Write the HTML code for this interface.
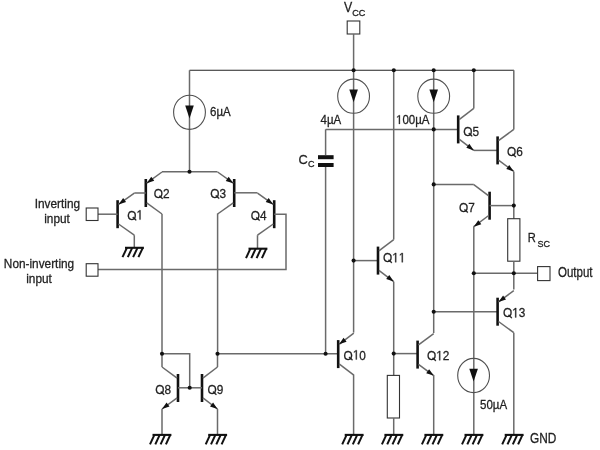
<!DOCTYPE html>
<html><head><meta charset="utf-8"><style>
html,body{margin:0;padding:0;background:#fff;width:600px;height:450px;overflow:hidden}
svg{display:block;filter:blur(0.45px)}
text{font-family:"Liberation Sans",sans-serif;fill:#222;stroke:#222;stroke-width:0.28px}
.g1{fill:#222;stroke:#222;stroke-width:0.28px;vector-effect:non-scaling-stroke}
</style></head><body>
<svg width="600" height="450" viewBox="0 0 600 450">
<rect width="600" height="450" fill="#fff"/>
<path d="M189.50 70.30 L514.00 70.30" fill="none" stroke="#222" stroke-width="1.1" stroke-linejoin="miter"/>
<rect x="347.20" y="21.00" width="12.60" height="13.00" fill="none" stroke="#333" stroke-width="1.1"/>
<path d="M353.60 34.00 L353.60 70.30" fill="none" stroke="#6a6a6a" stroke-width="1.5" stroke-linejoin="miter"/>
<text transform="translate(344.00 12.00) scale(0.85 1)" font-size="14.5" text-anchor="start">V</text>
<text transform="translate(352.20 16.20) scale(0.95 1)" font-size="9.6" text-anchor="start">CC</text>
<path d="M189.50 70.30 L189.50 171.70" fill="none" stroke="#6a6a6a" stroke-width="1.5" stroke-linejoin="miter"/>
<ellipse cx="189.50" cy="112.30" rx="15.9" ry="17.1" fill="none" stroke="#505050" stroke-width="1.1"/>
<path d="M185.20 105.60 L193.80 105.60 L189.50 118.40Z" fill="#111"/>
<text transform="translate(210.00 116.00) scale(0.9 1)" font-size="12.8" text-anchor="start">6µA</text>
<path d="M162.00 171.70 L217.50 171.70" fill="none" stroke="#6a6a6a" stroke-width="1.5" stroke-linejoin="miter"/>
<line x1="145.80" y1="179.00" x2="145.80" y2="207.00" stroke="#111" stroke-width="2.6"/>
<path d="M146.70 183.20 L162.00 172.00" fill="none" stroke="#6a6a6a" stroke-width="1.5" stroke-linejoin="miter"/>
<path d="M146.70 202.80 L162.00 214.00" fill="none" stroke="#6a6a6a" stroke-width="1.5" stroke-linejoin="miter"/>
<path d="M146.70 183.20 L151.28 176.75 L154.23 180.79Z" fill="#111"/>
<path d="M162.00 214.00 L162.00 353.70" fill="none" stroke="#6a6a6a" stroke-width="1.5" stroke-linejoin="miter"/>
<path d="M134.30 193.00 L145.80 193.00" fill="none" stroke="#6a6a6a" stroke-width="1.5" stroke-linejoin="miter"/>
<g transform="translate(153.80 198.20) scale(0.87 1)"><text font-size="13.6">O2</text><path class="g1" transform="translate(0.000 0) scale(0.00664 -0.00664)" d="M1010 420 L1175 300 L1540 30 L1540 -120 L1440 -120 L1075 150 L905 275 Z"/></g>
<line x1="117.60" y1="200.20" x2="117.60" y2="228.20" stroke="#111" stroke-width="2.6"/>
<path d="M118.50 204.40 L134.30 193.20" fill="none" stroke="#6a6a6a" stroke-width="1.5" stroke-linejoin="miter"/>
<path d="M118.50 224.00 L134.30 235.20" fill="none" stroke="#6a6a6a" stroke-width="1.5" stroke-linejoin="miter"/>
<path d="M118.50 204.40 L123.17 198.02 L126.06 202.10Z" fill="#111"/>
<path d="M98.00 214.20 L117.60 214.20" fill="none" stroke="#6a6a6a" stroke-width="1.5" stroke-linejoin="miter"/>
<path d="M134.30 193.20 L134.30 193.00" fill="none" stroke="#6a6a6a" stroke-width="1.5" stroke-linejoin="miter"/>
<path d="M134.30 235.20 L134.30 247.80" fill="none" stroke="#6a6a6a" stroke-width="1.5" stroke-linejoin="miter"/>
<path d="M125.00 247.80 L143.90 247.80" stroke="#111" stroke-width="2.1" fill="none"/>
<path d="M126.90 247.80 L122.50 257.20" stroke="#111" stroke-width="2.0" fill="none"/>
<path d="M132.20 247.80 L127.80 257.20" stroke="#111" stroke-width="2.0" fill="none"/>
<path d="M137.50 247.80 L133.10 257.20" stroke="#111" stroke-width="2.0" fill="none"/>
<path d="M142.80 247.80 L138.40 257.20" stroke="#111" stroke-width="2.0" fill="none"/>
<g transform="translate(127.30 219.60) scale(0.87 1)"><text font-size="13.6">O </text><path class="g1" transform="translate(0.000 0) scale(0.00664 -0.00664)" d="M1010 420 L1175 300 L1540 30 L1540 -120 L1440 -120 L1075 150 L905 275 Z"/><path class="g1" transform="translate(10.579 0) scale(0.00664 -0.00664)" d="M515 0 L515 1237 L197 1010 L197 1180 L530 1409 L696 1409 L696 0 Z"/></g>
<rect x="86.20" y="208.00" width="11.80" height="12.50" fill="none" stroke="#333" stroke-width="1.1"/>
<text transform="translate(57.40 207.90) scale(0.925 1)" font-size="12.8" text-anchor="middle">Inverting</text>
<text transform="translate(57.00 222.70) scale(0.925 1)" font-size="12.8" text-anchor="middle">input</text>
<line x1="234.20" y1="179.00" x2="234.20" y2="207.00" stroke="#111" stroke-width="2.6"/>
<path d="M233.30 183.20 L217.60 172.00" fill="none" stroke="#6a6a6a" stroke-width="1.5" stroke-linejoin="miter"/>
<path d="M233.30 202.80 L217.60 214.00" fill="none" stroke="#6a6a6a" stroke-width="1.5" stroke-linejoin="miter"/>
<path d="M233.30 183.20 L225.74 180.88 L228.65 176.81Z" fill="#111"/>
<path d="M217.60 213.50 L217.60 353.70" fill="none" stroke="#6a6a6a" stroke-width="1.5" stroke-linejoin="miter"/>
<path d="M234.20 192.80 L257.50 192.80" fill="none" stroke="#6a6a6a" stroke-width="1.5" stroke-linejoin="miter"/>
<g transform="translate(210.30 197.90) scale(0.87 1)"><text font-size="13.6">O3</text><path class="g1" transform="translate(0.000 0) scale(0.00664 -0.00664)" d="M1010 420 L1175 300 L1540 30 L1540 -120 L1440 -120 L1075 150 L905 275 Z"/></g>
<line x1="274.20" y1="200.20" x2="274.20" y2="228.20" stroke="#111" stroke-width="2.6"/>
<path d="M273.30 204.40 L257.50 193.20" fill="none" stroke="#6a6a6a" stroke-width="1.5" stroke-linejoin="miter"/>
<path d="M273.30 224.00 L257.50 235.20" fill="none" stroke="#6a6a6a" stroke-width="1.5" stroke-linejoin="miter"/>
<path d="M273.30 204.40 L265.74 202.10 L268.63 198.02Z" fill="#111"/>
<path d="M274.20 214.20 L286.00 214.20 L286.00 269.40 L98.00 269.40" fill="none" stroke="#6a6a6a" stroke-width="1.5" stroke-linejoin="miter"/>
<path d="M257.50 235.20 L257.50 248.70" fill="none" stroke="#6a6a6a" stroke-width="1.5" stroke-linejoin="miter"/>
<path d="M248.50 248.70 L267.40 248.70" stroke="#111" stroke-width="2.1" fill="none"/>
<path d="M250.40 248.70 L246.00 258.10" stroke="#111" stroke-width="2.0" fill="none"/>
<path d="M255.70 248.70 L251.30 258.10" stroke="#111" stroke-width="2.0" fill="none"/>
<path d="M261.00 248.70 L256.60 258.10" stroke="#111" stroke-width="2.0" fill="none"/>
<path d="M266.30 248.70 L261.90 258.10" stroke="#111" stroke-width="2.0" fill="none"/>
<g transform="translate(250.80 219.90) scale(0.87 1)"><text font-size="13.6">O4</text><path class="g1" transform="translate(0.000 0) scale(0.00664 -0.00664)" d="M1010 420 L1175 300 L1540 30 L1540 -120 L1440 -120 L1075 150 L905 275 Z"/></g>
<rect x="86.20" y="263.70" width="11.80" height="12.50" fill="none" stroke="#333" stroke-width="1.1"/>
<text transform="translate(39.00 268.30) scale(0.925 1)" font-size="12.8" text-anchor="middle">Non-inverting</text>
<text transform="translate(39.00 283.10) scale(0.925 1)" font-size="12.8" text-anchor="middle">input</text>
<path d="M162.00 353.70 L189.70 353.70 L189.70 387.80" fill="none" stroke="#6a6a6a" stroke-width="1.5" stroke-linejoin="miter"/>
<line x1="178.00" y1="374.00" x2="178.00" y2="402.00" stroke="#111" stroke-width="2.6"/>
<path d="M177.10 378.20 L162.00 367.00" fill="none" stroke="#6a6a6a" stroke-width="1.5" stroke-linejoin="miter"/>
<path d="M177.10 397.80 L162.00 409.00" fill="none" stroke="#6a6a6a" stroke-width="1.5" stroke-linejoin="miter"/>
<path d="M162.00 409.00 L166.53 402.52 L169.51 406.54Z" fill="#111"/>
<line x1="202.00" y1="374.00" x2="202.00" y2="402.00" stroke="#111" stroke-width="2.6"/>
<path d="M202.90 378.20 L217.50 367.00" fill="none" stroke="#6a6a6a" stroke-width="1.5" stroke-linejoin="miter"/>
<path d="M202.90 397.80 L217.50 409.00" fill="none" stroke="#6a6a6a" stroke-width="1.5" stroke-linejoin="miter"/>
<path d="M217.50 409.00 L210.03 406.42 L213.07 402.45Z" fill="#111"/>
<path d="M178.00 387.80 L202.00 387.80" fill="none" stroke="#6a6a6a" stroke-width="1.5" stroke-linejoin="miter"/>
<path d="M162.00 367.00 L162.00 353.70" fill="none" stroke="#6a6a6a" stroke-width="1.5" stroke-linejoin="miter"/>
<path d="M162.00 409.00 L162.00 434.90" fill="none" stroke="#6a6a6a" stroke-width="1.5" stroke-linejoin="miter"/>
<path d="M152.50 434.90 L171.40 434.90" stroke="#111" stroke-width="2.1" fill="none"/>
<path d="M154.40 434.90 L150.00 444.30" stroke="#111" stroke-width="2.0" fill="none"/>
<path d="M159.70 434.90 L155.30 444.30" stroke="#111" stroke-width="2.0" fill="none"/>
<path d="M165.00 434.90 L160.60 444.30" stroke="#111" stroke-width="2.0" fill="none"/>
<path d="M170.30 434.90 L165.90 444.30" stroke="#111" stroke-width="2.0" fill="none"/>
<path d="M217.50 367.00 L217.50 353.70" fill="none" stroke="#6a6a6a" stroke-width="1.5" stroke-linejoin="miter"/>
<path d="M217.50 409.00 L217.50 434.90" fill="none" stroke="#6a6a6a" stroke-width="1.5" stroke-linejoin="miter"/>
<path d="M208.20 434.90 L227.10 434.90" stroke="#111" stroke-width="2.1" fill="none"/>
<path d="M210.10 434.90 L205.70 444.30" stroke="#111" stroke-width="2.0" fill="none"/>
<path d="M215.40 434.90 L211.00 444.30" stroke="#111" stroke-width="2.0" fill="none"/>
<path d="M220.70 434.90 L216.30 444.30" stroke="#111" stroke-width="2.0" fill="none"/>
<path d="M226.00 434.90 L221.60 444.30" stroke="#111" stroke-width="2.0" fill="none"/>
<path d="M217.50 353.70 L338.00 353.70" fill="none" stroke="#6a6a6a" stroke-width="1.5" stroke-linejoin="miter"/>
<g transform="translate(155.30 394.10) scale(0.87 1)"><text font-size="13.6">O8</text><path class="g1" transform="translate(0.000 0) scale(0.00664 -0.00664)" d="M1010 420 L1175 300 L1540 30 L1540 -120 L1440 -120 L1075 150 L905 275 Z"/></g>
<g transform="translate(207.50 394.10) scale(0.87 1)"><text font-size="13.6">O9</text><path class="g1" transform="translate(0.000 0) scale(0.00664 -0.00664)" d="M1010 420 L1175 300 L1540 30 L1540 -120 L1440 -120 L1075 150 L905 275 Z"/></g>
<path d="M325.60 129.40 L457.70 129.40" fill="none" stroke="#6a6a6a" stroke-width="1.5" stroke-linejoin="miter"/>
<path d="M325.60 129.40 L325.60 155.00" fill="none" stroke="#6a6a6a" stroke-width="1.5" stroke-linejoin="miter"/>
<rect x="318" y="155.2" width="15.6" height="4" fill="#111"/>
<rect x="318" y="163.0" width="15.6" height="4" fill="#111"/>
<path d="M325.60 167.00 L325.60 353.70" fill="none" stroke="#6a6a6a" stroke-width="1.5" stroke-linejoin="miter"/>
<text transform="translate(298.40 164.40) scale(0.95 1)" font-size="13.5" text-anchor="start">C</text>
<text transform="translate(308.00 167.20) scale(0.95 1)" font-size="9.5" text-anchor="start">C</text>
<path d="M353.60 70.30 L353.60 260.60" fill="none" stroke="#6a6a6a" stroke-width="1.5" stroke-linejoin="miter"/>
<ellipse cx="353.60" cy="96.20" rx="15.9" ry="17.1" fill="none" stroke="#505050" stroke-width="1.1"/>
<path d="M349.30 89.50 L357.90 89.50 L353.60 102.30Z" fill="#111"/>
<text transform="translate(320.50 124.00) scale(0.9 1)" font-size="12.8" text-anchor="start">4µA</text>
<path d="M353.60 260.60 L378.00 260.60" fill="none" stroke="#6a6a6a" stroke-width="1.5" stroke-linejoin="miter"/>
<path d="M353.60 260.60 L353.60 332.60" fill="none" stroke="#6a6a6a" stroke-width="1.5" stroke-linejoin="miter"/>
<line x1="338.20" y1="340.10" x2="338.20" y2="368.10" stroke="#111" stroke-width="2.6"/>
<path d="M339.10 344.30 L353.80 333.10" fill="none" stroke="#6a6a6a" stroke-width="1.5" stroke-linejoin="miter"/>
<path d="M339.10 363.90 L353.80 375.10" fill="none" stroke="#6a6a6a" stroke-width="1.5" stroke-linejoin="miter"/>
<path d="M339.10 344.30 L343.55 337.77 L346.58 341.74Z" fill="#111"/>
<path d="M353.60 374.60 L353.60 434.90" fill="none" stroke="#6a6a6a" stroke-width="1.5" stroke-linejoin="miter"/>
<path d="M344.70 434.90 L363.60 434.90" stroke="#111" stroke-width="2.1" fill="none"/>
<path d="M346.60 434.90 L342.20 444.30" stroke="#111" stroke-width="2.0" fill="none"/>
<path d="M351.90 434.90 L347.50 444.30" stroke="#111" stroke-width="2.0" fill="none"/>
<path d="M357.20 434.90 L352.80 444.30" stroke="#111" stroke-width="2.0" fill="none"/>
<path d="M362.50 434.90 L358.10 444.30" stroke="#111" stroke-width="2.0" fill="none"/>
<g transform="translate(343.60 359.50) scale(0.87 1)"><text font-size="13.6">O 0</text><path class="g1" transform="translate(0.000 0) scale(0.00664 -0.00664)" d="M1010 420 L1175 300 L1540 30 L1540 -120 L1440 -120 L1075 150 L905 275 Z"/><path class="g1" transform="translate(10.579 0) scale(0.00664 -0.00664)" d="M515 0 L515 1237 L197 1010 L197 1180 L530 1409 L696 1409 L696 0 Z"/></g>
<path d="M393.70 70.30 L393.70 239.60" fill="none" stroke="#6a6a6a" stroke-width="1.5" stroke-linejoin="miter"/>
<line x1="378.00" y1="246.60" x2="378.00" y2="274.60" stroke="#111" stroke-width="2.6"/>
<path d="M378.90 250.80 L393.70 239.60" fill="none" stroke="#6a6a6a" stroke-width="1.5" stroke-linejoin="miter"/>
<path d="M378.90 270.40 L393.70 281.60" fill="none" stroke="#6a6a6a" stroke-width="1.5" stroke-linejoin="miter"/>
<path d="M393.70 281.60 L386.21 279.07 L389.23 275.08Z" fill="#111"/>
<path d="M393.70 281.60 L393.70 375.40" fill="none" stroke="#6a6a6a" stroke-width="1.5" stroke-linejoin="miter"/>
<path d="M393.70 353.60 L417.60 353.60" fill="none" stroke="#6a6a6a" stroke-width="1.5" stroke-linejoin="miter"/>
<rect x="387.30" y="375.40" width="12.20" height="42.60" fill="none" stroke="#333" stroke-width="1.1"/>
<path d="M393.70 418.00 L393.70 434.90" fill="none" stroke="#6a6a6a" stroke-width="1.5" stroke-linejoin="miter"/>
<path d="M384.40 434.90 L403.30 434.90" stroke="#111" stroke-width="2.1" fill="none"/>
<path d="M386.30 434.90 L381.90 444.30" stroke="#111" stroke-width="2.0" fill="none"/>
<path d="M391.60 434.90 L387.20 444.30" stroke="#111" stroke-width="2.0" fill="none"/>
<path d="M396.90 434.90 L392.50 444.30" stroke="#111" stroke-width="2.0" fill="none"/>
<path d="M402.20 434.90 L397.80 444.30" stroke="#111" stroke-width="2.0" fill="none"/>
<g transform="translate(383.00 262.30) scale(0.87 1)"><text font-size="13.6">O  </text><path class="g1" transform="translate(0.000 0) scale(0.00664 -0.00664)" d="M1010 420 L1175 300 L1540 30 L1540 -120 L1440 -120 L1075 150 L905 275 Z"/><path class="g1" transform="translate(10.579 0) scale(0.00664 -0.00664)" d="M515 0 L515 1237 L197 1010 L197 1180 L530 1409 L696 1409 L696 0 Z"/><path class="g1" transform="translate(18.142 0) scale(0.00664 -0.00664)" d="M515 0 L515 1237 L197 1010 L197 1180 L530 1409 L696 1409 L696 0 Z"/></g>
<path d="M433.70 70.30 L433.70 333.00" fill="none" stroke="#6a6a6a" stroke-width="1.5" stroke-linejoin="miter"/>
<ellipse cx="433.70" cy="96.20" rx="15.9" ry="17.1" fill="none" stroke="#505050" stroke-width="1.1"/>
<path d="M429.40 89.50 L438.00 89.50 L433.70 102.30Z" fill="#111"/>
<g transform="translate(396.00 124.00) scale(0.9 1)"><text font-size="12.8"> 00µA</text><path class="g1" transform="translate(0.000 0) scale(0.00625 -0.00625)" d="M515 0 L515 1237 L197 1010 L197 1180 L530 1409 L696 1409 L696 0 Z"/></g>
<line x1="417.60" y1="340.60" x2="417.60" y2="368.60" stroke="#111" stroke-width="2.6"/>
<path d="M418.50 344.80 L433.70 333.60" fill="none" stroke="#6a6a6a" stroke-width="1.5" stroke-linejoin="miter"/>
<path d="M418.50 364.40 L433.70 375.60" fill="none" stroke="#6a6a6a" stroke-width="1.5" stroke-linejoin="miter"/>
<path d="M433.70 375.60 L426.18 373.16 L429.15 369.14Z" fill="#111"/>
<path d="M433.70 375.00 L433.70 434.90" fill="none" stroke="#6a6a6a" stroke-width="1.5" stroke-linejoin="miter"/>
<path d="M424.40 434.90 L443.30 434.90" stroke="#111" stroke-width="2.1" fill="none"/>
<path d="M426.30 434.90 L421.90 444.30" stroke="#111" stroke-width="2.0" fill="none"/>
<path d="M431.60 434.90 L427.20 444.30" stroke="#111" stroke-width="2.0" fill="none"/>
<path d="M436.90 434.90 L432.50 444.30" stroke="#111" stroke-width="2.0" fill="none"/>
<path d="M442.20 434.90 L437.80 444.30" stroke="#111" stroke-width="2.0" fill="none"/>
<g transform="translate(427.00 360.30) scale(0.87 1)"><text font-size="13.6">O 2</text><path class="g1" transform="translate(0.000 0) scale(0.00664 -0.00664)" d="M1010 420 L1175 300 L1540 30 L1540 -120 L1440 -120 L1075 150 L905 275 Z"/><path class="g1" transform="translate(10.579 0) scale(0.00664 -0.00664)" d="M515 0 L515 1237 L197 1010 L197 1180 L530 1409 L696 1409 L696 0 Z"/></g>
<line x1="458.20" y1="115.40" x2="458.20" y2="143.40" stroke="#111" stroke-width="2.6"/>
<path d="M459.10 119.60 L473.80 108.40" fill="none" stroke="#6a6a6a" stroke-width="1.5" stroke-linejoin="miter"/>
<path d="M459.10 139.20 L473.80 150.40" fill="none" stroke="#6a6a6a" stroke-width="1.5" stroke-linejoin="miter"/>
<path d="M473.80 150.40 L466.32 147.84 L469.35 143.87Z" fill="#111"/>
<path d="M473.80 108.40 L473.80 70.30" fill="none" stroke="#6a6a6a" stroke-width="1.5" stroke-linejoin="miter"/>
<path d="M473.80 150.40 L497.60 150.40" fill="none" stroke="#6a6a6a" stroke-width="1.5" stroke-linejoin="miter"/>
<g transform="translate(463.30 135.60) scale(0.87 1)"><text font-size="13.6">O5</text><path class="g1" transform="translate(0.000 0) scale(0.00664 -0.00664)" d="M1010 420 L1175 300 L1540 30 L1540 -120 L1440 -120 L1075 150 L905 275 Z"/></g>
<line x1="497.60" y1="136.40" x2="497.60" y2="164.40" stroke="#111" stroke-width="2.6"/>
<path d="M498.50 140.60 L513.80 129.40" fill="none" stroke="#6a6a6a" stroke-width="1.5" stroke-linejoin="miter"/>
<path d="M498.50 160.20 L513.80 171.40" fill="none" stroke="#6a6a6a" stroke-width="1.5" stroke-linejoin="miter"/>
<path d="M513.80 171.40 L506.27 168.99 L509.22 164.95Z" fill="#111"/>
<path d="M513.80 129.40 L513.80 70.30" fill="none" stroke="#6a6a6a" stroke-width="1.5" stroke-linejoin="miter"/>
<path d="M513.80 171.40 L513.80 218.70" fill="none" stroke="#6a6a6a" stroke-width="1.5" stroke-linejoin="miter"/>
<g transform="translate(507.00 156.40) scale(0.87 1)"><text font-size="13.6">O6</text><path class="g1" transform="translate(0.000 0) scale(0.00664 -0.00664)" d="M1010 420 L1175 300 L1540 30 L1540 -120 L1440 -120 L1075 150 L905 275 Z"/></g>
<line x1="489.60" y1="191.70" x2="489.60" y2="219.70" stroke="#111" stroke-width="2.6"/>
<path d="M488.70 195.90 L473.80 184.70" fill="none" stroke="#6a6a6a" stroke-width="1.5" stroke-linejoin="miter"/>
<path d="M488.70 215.50 L473.80 226.70" fill="none" stroke="#6a6a6a" stroke-width="1.5" stroke-linejoin="miter"/>
<path d="M473.80 226.70 L478.29 220.20 L481.30 224.19Z" fill="#111"/>
<path d="M473.80 184.40 L433.70 184.40" fill="none" stroke="#6a6a6a" stroke-width="1.5" stroke-linejoin="miter"/>
<path d="M489.60 205.60 L513.80 205.60" fill="none" stroke="#6a6a6a" stroke-width="1.5" stroke-linejoin="miter"/>
<path d="M473.80 226.30 L473.80 434.90" fill="none" stroke="#6a6a6a" stroke-width="1.5" stroke-linejoin="miter"/>
<g transform="translate(459.00 211.90) scale(0.87 1)"><text font-size="13.6">O7</text><path class="g1" transform="translate(0.000 0) scale(0.00664 -0.00664)" d="M1010 420 L1175 300 L1540 30 L1540 -120 L1440 -120 L1075 150 L905 275 Z"/></g>
<rect x="507.70" y="218.70" width="12.20" height="42.50" fill="none" stroke="#333" stroke-width="1.1"/>
<path d="M513.80 261.20 L513.80 289.50" fill="none" stroke="#6a6a6a" stroke-width="1.5" stroke-linejoin="miter"/>
<text transform="translate(527.80 242.00) scale(0.82 1)" font-size="13.6" text-anchor="start">R</text>
<text transform="translate(537.50 247.00) scale(0.95 1)" font-size="9.5" text-anchor="start">SC</text>
<path d="M473.80 273.20 L537.20 273.20" fill="none" stroke="#6a6a6a" stroke-width="1.5" stroke-linejoin="miter"/>
<rect x="537.60" y="266.60" width="12.40" height="14.00" fill="none" stroke="#333" stroke-width="1.1"/>
<text transform="translate(558.00 276.60) scale(0.835 1)" font-size="13.8" text-anchor="start">Output</text>
<path d="M433.70 311.70 L497.60 311.70" fill="none" stroke="#6a6a6a" stroke-width="1.5" stroke-linejoin="miter"/>
<line x1="497.60" y1="297.70" x2="497.60" y2="325.70" stroke="#111" stroke-width="2.6"/>
<path d="M498.50 301.90 L513.80 290.70" fill="none" stroke="#6a6a6a" stroke-width="1.5" stroke-linejoin="miter"/>
<path d="M498.50 321.50 L513.80 332.70" fill="none" stroke="#6a6a6a" stroke-width="1.5" stroke-linejoin="miter"/>
<path d="M498.50 301.90 L503.08 295.45 L506.03 299.49Z" fill="#111"/>
<path d="M513.80 332.70 L513.80 434.90" fill="none" stroke="#6a6a6a" stroke-width="1.5" stroke-linejoin="miter"/>
<path d="M504.70 434.90 L523.60 434.90" stroke="#111" stroke-width="2.1" fill="none"/>
<path d="M506.60 434.90 L502.20 444.30" stroke="#111" stroke-width="2.0" fill="none"/>
<path d="M511.90 434.90 L507.50 444.30" stroke="#111" stroke-width="2.0" fill="none"/>
<path d="M517.20 434.90 L512.80 444.30" stroke="#111" stroke-width="2.0" fill="none"/>
<path d="M522.50 434.90 L518.10 444.30" stroke="#111" stroke-width="2.0" fill="none"/>
<g transform="translate(503.00 317.40) scale(0.87 1)"><text font-size="13.6">O 3</text><path class="g1" transform="translate(0.000 0) scale(0.00664 -0.00664)" d="M1010 420 L1175 300 L1540 30 L1540 -120 L1440 -120 L1075 150 L905 275 Z"/><path class="g1" transform="translate(10.579 0) scale(0.00664 -0.00664)" d="M515 0 L515 1237 L197 1010 L197 1180 L530 1409 L696 1409 L696 0 Z"/></g>
<ellipse cx="473.60" cy="375.50" rx="15.9" ry="17.1" fill="none" stroke="#505050" stroke-width="1.1"/>
<path d="M469.30 368.80 L477.90 368.80 L473.60 381.60Z" fill="#111"/>
<text transform="translate(480.00 409.30) scale(0.9 1)" font-size="12.8" text-anchor="start">50µA</text>
<path d="M464.50 434.90 L483.40 434.90" stroke="#111" stroke-width="2.1" fill="none"/>
<path d="M466.40 434.90 L462.00 444.30" stroke="#111" stroke-width="2.0" fill="none"/>
<path d="M471.70 434.90 L467.30 444.30" stroke="#111" stroke-width="2.0" fill="none"/>
<path d="M477.00 434.90 L472.60 444.30" stroke="#111" stroke-width="2.0" fill="none"/>
<path d="M482.30 434.90 L477.90 444.30" stroke="#111" stroke-width="2.0" fill="none"/>
<text transform="translate(530.00 442.60) scale(0.835 1)" font-size="14.2" text-anchor="start">GND</text>
<circle cx="353.60" cy="70.30" r="2.05" fill="#111"/>
<circle cx="393.80" cy="70.30" r="2.05" fill="#111"/>
<circle cx="433.70" cy="70.30" r="2.05" fill="#111"/>
<circle cx="473.80" cy="70.30" r="2.05" fill="#111"/>
<circle cx="189.50" cy="171.70" r="2.05" fill="#111"/>
<circle cx="162.00" cy="353.70" r="2.05" fill="#111"/>
<circle cx="189.70" cy="387.80" r="2.05" fill="#111"/>
<circle cx="217.50" cy="353.70" r="2.05" fill="#111"/>
<circle cx="325.60" cy="353.70" r="2.05" fill="#111"/>
<circle cx="353.60" cy="260.60" r="2.05" fill="#111"/>
<circle cx="393.70" cy="353.60" r="2.05" fill="#111"/>
<circle cx="433.70" cy="129.40" r="2.05" fill="#111"/>
<circle cx="433.70" cy="184.40" r="2.05" fill="#111"/>
<circle cx="433.70" cy="311.70" r="2.05" fill="#111"/>
<circle cx="513.80" cy="205.60" r="2.05" fill="#111"/>
<circle cx="473.80" cy="273.20" r="2.05" fill="#111"/>
<circle cx="513.80" cy="273.20" r="2.05" fill="#111"/>
</svg></body></html>
